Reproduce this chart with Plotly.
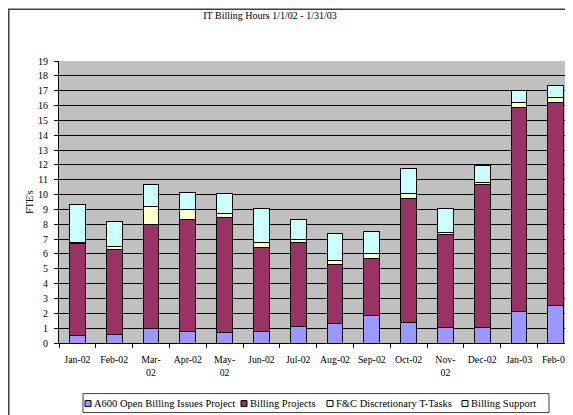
import plotly.graph_objects as go

months = ["Jan-02", "Feb-02", "Mar-02", "Apr-02", "May-02", "Jun-02", "Jul-02",
          "Aug-02", "Sep-02", "Oct-02", "Nov-02", "Dec-02", "Jan-03", "Feb-03"]
tick_labels = ["Jan-02", "Feb-02", "Mar-<br>02", "Apr-02", "May-<br>02", "Jun-02", "Jul-02",
               "Aug-02", "Sep-02", "Oct-02", "Nov-<br>02", "Dec-02", "Jan-03", "Feb-03"]

a600 = [0.49, 0.56, 0.96, 0.78, 0.71, 0.78, 1.10, 1.34, 1.86, 1.39, 1.05, 1.05, 2.10, 2.55]
billing_projects = [6.23, 5.71, 7.04, 7.56, 7.76, 5.65, 5.67, 3.97, 3.81, 8.36, 6.23, 9.60, 13.77, 13.65]
fc_ttasks = [0.03, 0.23, 1.19, 0.67, 0.27, 0.34, 0.22, 0.22, 0.33, 0.34, 0.14, 0.18, 0.31, 0.34]
billing_support = [2.57, 1.72, 1.52, 1.12, 1.35, 2.31, 1.35, 1.82, 1.51, 1.68, 1.66, 1.10, 0.81, 0.81]

series_names = ["A600 Open Billing Issues Project", "Billing Projects",
                "F&C Discretionary T-Tasks", "Billing Support"]
series_values = [a600, billing_projects, fc_ttasks, billing_support]
series_colors = ["#9999FF", "#993366", "#FFFFCC", "#CCFFFF"]

font_family = "Liberation Serif, Times New Roman, serif"

fig = go.Figure()
for name, vals, color in zip(series_names, series_values, series_colors):
    fig.add_trace(go.Bar(
        x=months, y=vals, name=name,
        marker=dict(color=color, line=dict(color="#000000", width=1)),
    ))

# The page body has an 8px margin, so the figure starts at window (8, 8).
OFF = 8
W, H = 573 - OFF, 415 - OFF
plot_left, plot_top, plot_bottom = 59, 60.7, 343.3
L = plot_left - OFF
T = plot_top - OFF
B = H - (plot_bottom - OFF)
R = 0
pw = W - L - R
ph = H - T - B

def px_x(wx):
    return (wx - OFF - L) / pw

def px_y(wy):
    return (H - B - (wy - OFF)) / ph

shapes = [
    # chart border
    dict(type="rect", xref="paper", yref="paper",
         x0=px_x(OFF + 0.75), x1=px_x(W + 40), y0=px_y(H + 40), y1=px_y(OFF + 0.75),
         line=dict(color="#404040", width=1.5), layer="below"),
    # legend box
    dict(type="rect", xref="paper", yref="paper",
         x0=px_x(83), x1=px_x(549), y0=px_y(413), y1=px_y(394),
         line=dict(color="#404040", width=1), fillcolor="#FFFFFF", layer="above"),
]
annotations = []
legend_sym_x = [85, 241, 327, 462]
leg_y = 404
for name, color, sx in zip(series_names, series_colors, legend_sym_x):
    shapes.append(dict(type="rect", xref="paper", yref="paper",
                       x0=px_x(sx), x1=px_x(sx + 6), y0=px_y(leg_y + 3), y1=px_y(leg_y - 3),
                       line=dict(color="#000000", width=1), fillcolor=color, layer="above"))
    annotations.append(dict(text=name, xref="paper", yref="paper", x=px_x(sx + 7), y=px_y(leg_y),
                            xanchor="left", yanchor="middle", showarrow=False,
                            font=dict(size=10.5, family=font_family)))

fig.update_layout(
    width=W, height=H,
    margin=dict(l=L, r=R, t=T, b=B, pad=0),
    barmode="stack",
    bargap=0.57,
    paper_bgcolor="#FFFFFF",
    plot_bgcolor="#C0C0C0",
    font=dict(family=font_family, size=10, color="#000000"),
    title=dict(text="IT Billing Hours 1/1/02 - 1/31/03", x=px_x(270), xref="paper",
               xanchor="center", y=1 - (15 - OFF) / H, yanchor="middle",
               font=dict(size=10, family=font_family)),
    showlegend=False,
    xaxis=dict(
        tickmode="array", tickvals=months, ticktext=tick_labels, tickangle=0,
        range=[-0.5, -0.5 + pw / 36.8],
        showline=True, linecolor="#000000", linewidth=1,
        ticks="outside", tickson="boundaries", ticklen=4, tickcolor="#000000",
        ticklabelstandoff=7, ticklabeloverflow="allow",
        showgrid=False, tickfont=dict(size=9.8), fixedrange=True, automargin=False,
    ),
    yaxis=dict(
        range=[0, 19], dtick=1, tick0=0,
        showline=True, linecolor="#000000", linewidth=1,
        ticks="outside", ticklen=4, tickcolor="#000000",
        ticklabelstandoff=4,
        showgrid=True, gridcolor="#000000", gridwidth=1,
        zeroline=False, tickfont=dict(size=10), automargin=False,
        title=dict(text="FTE's", font=dict(size=10), standoff=2),
    ),
    shapes=shapes,
    annotations=annotations,
)

fig.write_html("out.html")
